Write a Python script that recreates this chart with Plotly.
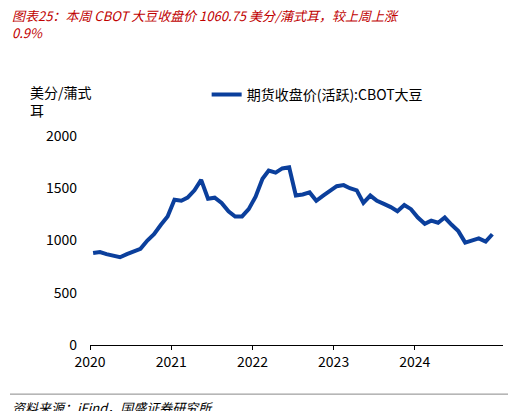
import plotly.graph_objects as go

months = ["2020-01","2020-02","2020-03","2020-04","2020-05","2020-06","2020-07","2020-08","2020-09","2020-10","2020-11","2020-12",
          "2021-01","2021-02","2021-03","2021-04","2021-05","2021-06","2021-07","2021-08","2021-09","2021-10","2021-11","2021-12",
          "2022-01","2022-02","2022-03","2022-04","2022-05","2022-06","2022-07","2022-08","2022-09","2022-10","2022-11","2022-12",
          "2023-01","2023-02","2023-03","2023-04","2023-05","2023-06","2023-07","2023-08","2023-09","2023-10","2023-11","2023-12",
          "2024-01","2024-02","2024-03","2024-04","2024-05","2024-06","2024-07","2024-08","2024-09","2024-10","2024-11","2024-12"]
prices = [880, 890, 870, 850, 840, 870, 890, 920, 1000, 1060, 1150, 1230,
          1390, 1380, 1410, 1480, 1580, 1400, 1410, 1360, 1280, 1230, 1230, 1300,
          1420, 1590, 1670, 1650, 1690, 1700, 1430, 1440, 1460, 1380, 1430, 1480,
          1520, 1530, 1500, 1480, 1360, 1430, 1380, 1350, 1320, 1280, 1340, 1300,
          1220, 1160, 1190, 1170, 1220, 1150, 1090, 980, 1000, 1020, 990, 1060]
dates = [m + "-15" for m in months]
tick_vals = ["2020-01-01", "2021-01-01", "2022-01-01", "2023-01-01", "2024-01-01"]
tick_text = ["2020", "2021", "2022", "2023", "2024"]

fig = go.Figure(go.Scatter(x=dates, y=prices, mode="lines",
                           line=dict(color="#0b3f9c", width=4),
                           name="期货收盘价(活跃):CBOT大豆"))
font = "Noto Sans CJK SC"
fig.update_layout(
    width=516, height=411, margin=dict(l=82, r=21, t=128, b=74),
    paper_bgcolor="white", plot_bgcolor="white",
    font=dict(family=font, size=14, color="black"),
    showlegend=True,
    legend=dict(orientation="h", x=0.55, xanchor="center", y=1.12, yanchor="bottom",
                font=dict(size=14)),
    xaxis=dict(range=["2020-01-01", "2025-02-01"], tickvals=tick_vals, ticktext=tick_text,
               showgrid=False, showline=True, linecolor="black", ticks="outside",
               ticklen=4, tickcolor="black"),
    yaxis=dict(range=[0, 2000], tickvals=[0, 500, 1000, 1500, 2000], showgrid=False,
               showline=False, zeroline=False, ticklabelstandoff=12),
    annotations=[
        dict(text="<i>图表25：本周 CBOT 大豆收盘价 1060.75 美分/蒲式耳，较上周上涨<br>0.9%</i>",
             xref="paper", yref="paper", x=-80/413, y=1.63, xanchor="left", yanchor="top",
             showarrow=False, align="left", font=dict(color="#c00000", size=13, family=font)),
        dict(text="美分/蒲式<br>耳", xref="paper", yref="paper", x=-62/413, y=1.27,
             xanchor="left", yanchor="top", showarrow=False, align="left", font=dict(size=14)),
        dict(text="<i>资料来源：iFind，国盛证券研究所</i>", xref="paper", yref="paper",
             x=-80/413, y=-0.245, xanchor="left", yanchor="top", showarrow=False,
             font=dict(size=13, family=font)),
    ],
    shapes=[dict(type="line", xref="paper", yref="paper", x0=-80/413, x1=1.04,
                 y0=-0.235, y1=-0.235, line=dict(color="#888888", width=1))],
)
fig.write_html("out.html")
